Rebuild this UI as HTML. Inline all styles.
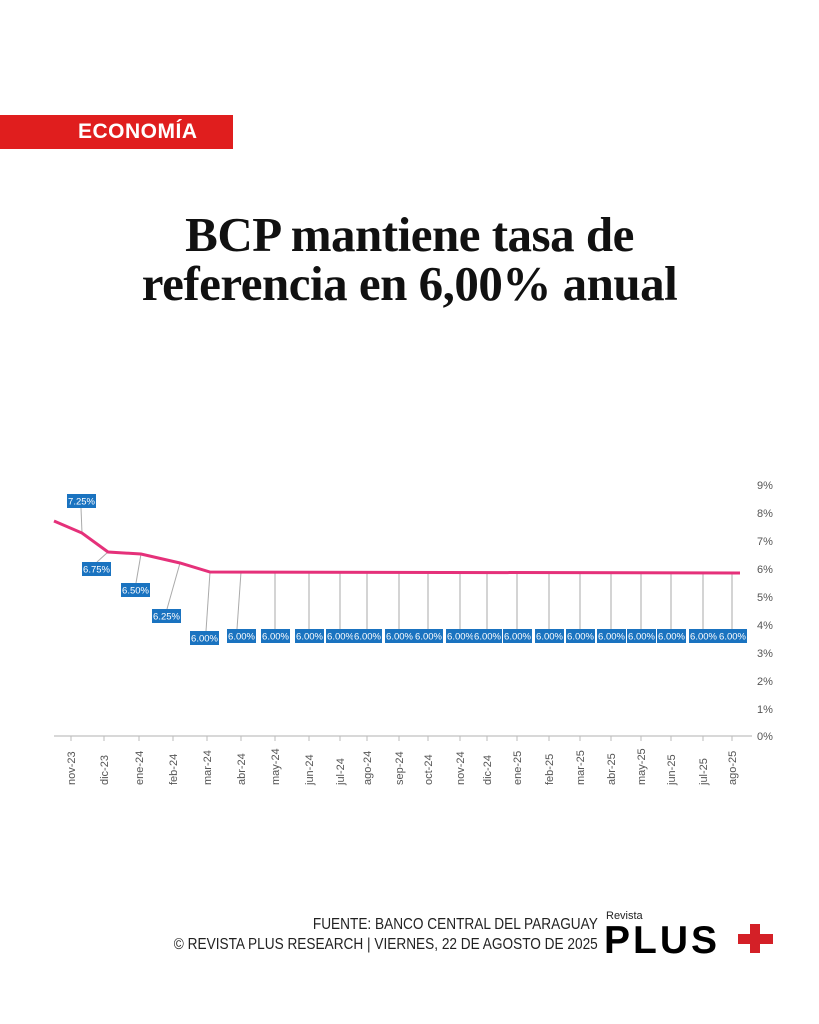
<!DOCTYPE html>
<html><head><meta charset="utf-8"><style>
body{margin:0;width:819px;height:1024px;background:#fff;position:relative;overflow:hidden;font-family:"Liberation Sans",sans-serif}
.bar{position:absolute;left:0;top:115px;width:233px;height:34px;background:#e01e1e}
.bar span{position:absolute;left:78px;top:5px;color:#fff;font-weight:bold;font-size:21px;letter-spacing:0.5px}
.title{position:absolute;left:0;width:819px;top:210px;text-align:center;font-family:"Liberation Serif",serif;font-weight:bold;font-size:49px;line-height:49px;color:#111;letter-spacing:-0.5px}
.foot{position:absolute;right:221px;text-align:right;font-size:15.5px;color:#222;transform:scaleX(0.88);transform-origin:right;white-space:nowrap}
</style></head><body>
<div class="bar"><span>ECONOMÍA</span></div>
<div class="title">BCP mantiene tasa de<br>referencia en 6,00% anual</div>
<svg width="819" height="1024" style="position:absolute;left:0;top:0" font-family="Liberation Sans,sans-serif">
<g font-size="11" fill="#555">
<text x="757" y="489">9%</text><text x="757" y="517">8%</text><text x="757" y="545">7%</text><text x="757" y="573">6%</text><text x="757" y="601">5%</text><text x="757" y="629">4%</text><text x="757" y="657">3%</text><text x="757" y="685">2%</text><text x="757" y="713">1%</text><text x="757" y="740">0%</text>
</g>
<line x1="54" y1="736" x2="752" y2="736" stroke="#ccc" stroke-width="1.5"/>
<g id="ticks" stroke="#bbb"></g>
<g id="xl" font-size="11" fill="#555"></g>
<g id="lead" stroke="#aaa" stroke-width="1"></g>
<polyline points="54,521 82,533 108,552 141,554 180,563 210,572 740,573" fill="none" stroke="#e5317a" stroke-width="3"/>
<g id="labs"></g>
<text x="606" y="919" font-size="11" fill="#222">Revista</text>
<text x="604" y="953" font-size="39" font-weight="bold" fill="#000" letter-spacing="3">PLUS</text>
<rect x="750" y="924" width="10" height="29" fill="#d42027"/><rect x="738" y="934" width="35" height="10" fill="#d42027"/>
</svg>
<div class="foot" style="top:916px">FUENTE: BANCO CENTRAL DEL PARAGUAY</div>
<div class="foot" style="top:936px">© REVISTA PLUS RESEARCH | VIERNES, 22 DE AGOSTO DE 2025</div>
<script>
var xs=[71,104,139,173,207,241,275,309,340,367,399,428,460,487,517,549,580,611,641,671,703,732];
var n=["nov-23","dic-23","ene-24","feb-24","mar-24","abr-24","may-24","jun-24","jul-24","ago-24","sep-24","oct-24","nov-24","dic-24","ene-25","feb-25","mar-25","abr-25","may-25","jun-25","jul-25","ago-25"];
var NS="http://www.w3.org/2000/svg";
function el(p,t,a,tx){var e=document.createElementNS(NS,t);for(var k in a)e.setAttribute(k,a[k]);if(tx)e.textContent=tx;document.getElementById(p).appendChild(e);}
xs.forEach(function(x,i){el("ticks","line",{x1:x,y1:736,x2:x,y2:741});
el("xl","text",{x:0,y:0,transform:"translate("+(x+4)+",785) rotate(-90)"},n[i]);});
var L=[[67,494,"7.25%",82,533,81,508],[82,562,"6.75%",108,552,97,562],[121,583,"6.50%",141,554,136,583],[152,609,"6.25%",180,563,167,609],[190,631,"6.00%",210,572,206,631]];
for(var i=5;i<xs.length;i++){L.push([xs[i]-14,629,"6.00%",xs[i],572,xs[i]+(i==5?-4:0),629]);}
L.forEach(function(l){el("lead","line",{x1:l[3],y1:l[4],x2:l[5],y2:l[6]});
el("labs","rect",{x:l[0],y:l[1],width:29,height:14,fill:"#1a73c0"});
el("labs","text",{x:l[0]+14.5,y:l[1]+10.5,"font-size":"9.5",fill:"#fff","text-anchor":"middle"},l[2]);});
</script>
</body></html>
